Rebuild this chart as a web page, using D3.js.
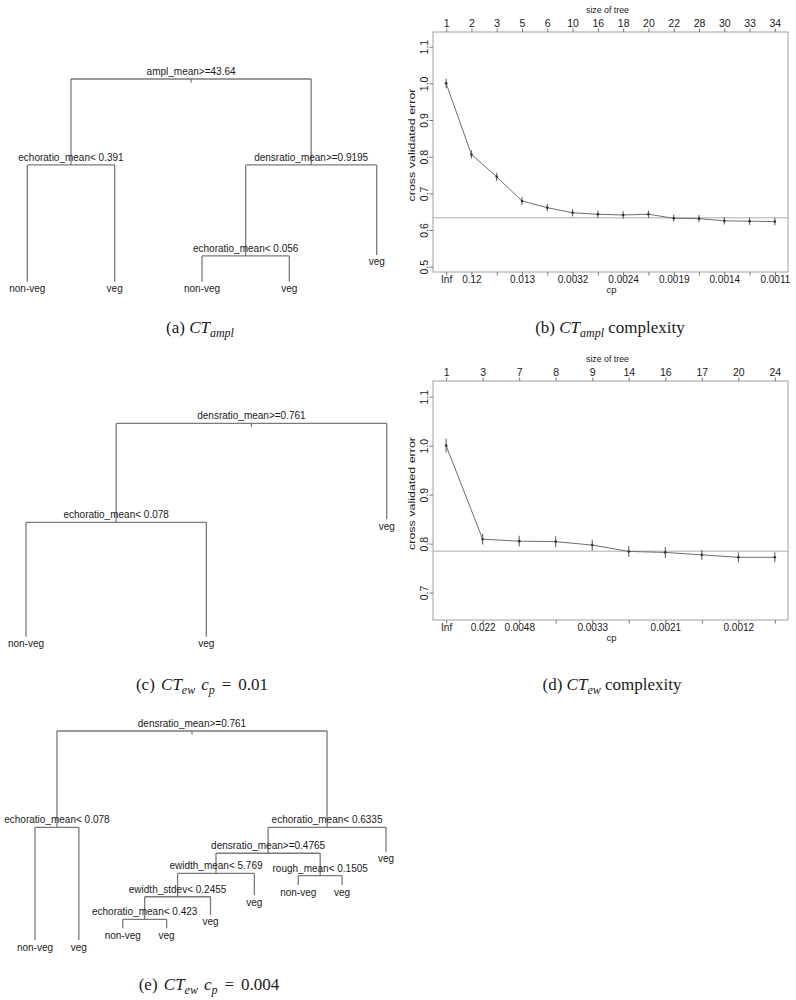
<!DOCTYPE html>
<html>
<head>
<meta charset="utf-8">
<script src="https://cdn.jsdelivr.net/npm/d3@7"></script>
<style>
  body { margin: 0; background: #fff; }
  text { font-family: "Liberation Sans", Arial, sans-serif; fill: #1a1a1a; }
  .cap text, text.cap { font-family: "Liberation Serif", "Times New Roman", serif; }
</style>
</head>
<body>
<div id="fig"></div>
<script>
// ---- complexity plot data ----
const amplSize   = [1, 2, 3, 5, 6, 10, 16, 18, 20, 22, 28, 30, 33, 34];
const amplCp     = ["Inf", "0.12", "", "0.013", "", "0.0032", "", "0.0024", "", "0.0019", "", "0.0014", "", "0.0011"];
const amplXerror = [1.000, 0.806, 0.745, 0.679, 0.661, 0.647, 0.643, 0.641, 0.643, 0.632, 0.631, 0.625, 0.624, 0.623];
const amplXstd   = [0.013, 0.011, 0.011, 0.011, 0.010, 0.010, 0.010, 0.010, 0.010, 0.010, 0.010, 0.010, 0.010, 0.010];
const amplRef    = 0.6335;
const amplYTicks = [0.5, 0.6, 0.7, 0.8, 0.9, 1.0, 1.1];

const ewSize   = [1, 3, 7, 8, 9, 14, 16, 17, 20, 24];
const ewCp     = ["Inf", "0.022", "0.0048", "", "0.0033", "", "0.0021", "", "0.0012", ""];
const ewXerror = [1.000, 0.809, 0.805, 0.804, 0.797, 0.784, 0.782, 0.777, 0.772, 0.772];
const ewXstd   = [0.014, 0.011, 0.011, 0.011, 0.011, 0.011, 0.011, 0.010, 0.010, 0.010];
const ewRef    = 0.7845;
const ewYTicks = [0.7, 0.8, 0.9, 1.0, 1.1];

// ---- trees: rpart node numbers (children of n are 2n, 2n+1), labels, relative heights ----
const treeAIds    = [1, 2, 3, 4, 5, 6, 7, 12, 13];
const treeALabels = ["ampl_mean>=43.64", "echoratio_mean< 0.391", "densratio_mean>=0.9195", "non-veg", "veg",
                     "echoratio_mean< 0.056", "veg", "non-veg", "veg"];
const treeAHeight = [1, 0.576, 0.576, 0, 0, 0.127, 0.132, 0, 0];

const treeCIds    = [1, 2, 3, 4, 5];
const treeCLabels = ["densratio_mean>=0.761", "echoratio_mean< 0.078", "veg", "non-veg", "veg"];
const treeCHeight = [1, 0.536, 0.550, 0, 0];

const treeEIds    = [1, 2, 3, 4, 5, 6, 7, 12, 13, 24, 25, 26, 27, 48, 49, 96, 97];
const treeELabels = ["densratio_mean>=0.761", "echoratio_mean< 0.078", "echoratio_mean< 0.6335", "non-veg", "veg",
                     "densratio_mean>=0.4765", "veg", "ewidth_mean< 5.769", "rough_mean< 0.1505",
                     "ewidth_stdev< 0.2455", "veg", "non-veg", "veg", "echoratio_mean< 0.423", "veg", "non-veg", "veg"];
const treeEHeight = [1, 0.539, 0.539, 0, 0, 0.415, 0.422, 0.319, 0.308, 0.207, 0.215, 0.263, 0.263, 0.099, 0.120, 0.056, 0.056];

const width = 796;
const height = 1000;

const svg = d3.select('#fig')
  .append('svg')
  .attr('width', width)
  .attr('height', height)
  .style('background', '#fff');

const treeLine = '#7a7a7a';

function drawTree(ids, labels, heights, box) {
  const table = ids.map((id, i) => ({
    id: String(id),
    parent: id === 1 ? null : String(Math.floor(id / 2)),
    label: labels[i],
    h: heights[i]
  }));
  const root = d3.stratify().id(d => d.id).parentId(d => d.parent)(table);
  root.sort((a, b) => +a.id - +b.id);

  const leaves = root.leaves();
  leaves.forEach((d, i) => d.xi = i);
  root.eachAfter(d => { if (d.children) d.xi = d3.mean(d.children, c => c.xi); });

  const x = d3.scaleLinear().domain([0, leaves.length - 1]).range([box.left, box.right]);
  const y = d3.scaleLinear().domain([0, 1]).range([box.bottom, box.top]);

  const g = svg.append('g');
  const lines = g.append('g')
    .attr('stroke', treeLine)
    .attr('stroke-width', 1.3)
    .attr('fill', 'none');

  root.each(n => {
    if (!n.children) return;
    const ny = y(n.data.h);
    const xs = n.children.map(c => x(c.xi));
    lines.append('line')
      .attr('x1', d3.min(xs)).attr('x2', d3.max(xs))
      .attr('y1', ny).attr('y2', ny);
    n.children.forEach(c => {
      lines.append('line')
        .attr('x1', x(c.xi)).attr('x2', x(c.xi))
        .attr('y1', ny).attr('y2', y(c.data.h));
    });
  });

  // little stub under the root
  lines.append('line')
    .attr('x1', x(root.xi)).attr('x2', x(root.xi))
    .attr('y1', y(1)).attr('y2', y(1) + 3.5);

  g.selectAll('text')
    .data(root.descendants())
    .enter()
    .append('text')
    .attr('x', d => x(d.xi))
    .attr('y', d => d.children ? y(d.data.h) - 4 : y(d.data.h) + 10.5)
    .attr('text-anchor', 'middle')
    .style('font-size', '10px')
    .text(d => d.data.label);
}

function drawCp(sizes, cps, xerr, xstd, ref, yTicks, box, yDomain) {
  const n = sizes.length;
  const pad = 0.04 * (n - 1);
  const x = d3.scaleLinear().domain([-pad, n - 1 + pad]).range([box.left, box.right]);
  const y = d3.scaleLinear().domain(yDomain).range([box.bottom, box.top]);
  const idx = d3.range(n);

  const g = svg.append('g');

  // reference line
  g.append('line')
    .attr('x1', box.left).attr('x2', box.right)
    .attr('y1', y(ref)).attr('y2', y(ref))
    .attr('stroke', '#c8c8c8')
    .attr('stroke-width', 1.5);

  // error bars
  g.selectAll('.err')
    .data(idx)
    .enter()
    .append('line')
    .attr('class', 'err')
    .attr('x1', i => x(i)).attr('x2', i => x(i))
    .attr('y1', i => y(xerr[i] - xstd[i]))
    .attr('y2', i => y(xerr[i] + xstd[i]))
    .attr('stroke', '#555')
    .attr('stroke-width', 1);

  const line = d3.line().x(i => x(i)).y(i => y(xerr[i]));
  g.append('path')
    .attr('d', line(idx))
    .attr('fill', 'none')
    .attr('stroke', '#6e6e6e')
    .attr('stroke-width', 1);

  g.selectAll('.pt')
    .data(idx)
    .enter()
    .append('circle')
    .attr('class', 'pt')
    .attr('cx', i => x(i))
    .attr('cy', i => y(xerr[i]))
    .attr('r', 1.3)
    .attr('fill', '#333');

  // box
  g.append('rect')
    .attr('x', box.left).attr('y', box.top)
    .attr('width', box.right - box.left)
    .attr('height', box.bottom - box.top)
    .attr('fill', 'none')
    .attr('stroke', '#a0a0a0')
    .attr('stroke-width', 1);

  const bottomAxis = d3.axisBottom(x)
    .tickValues(idx)
    .tickFormat(i => cps[i])
    .tickSize(3.5)
    .tickPadding(0.5);
  const topAxis = d3.axisTop(x)
    .tickValues(idx)
    .tickFormat(i => sizes[i])
    .tickSize(3.5)
    .tickPadding(1.5);
  const leftAxis = d3.axisLeft(y)
    .tickValues(yTicks)
    .tickFormat(d3.format('.1f'))
    .tickSize(3.5);

  const styleAxis = sel => {
    sel.select('.domain').remove();
    sel.selectAll('.tick line').attr('stroke', '#777');
    sel.selectAll('.tick text')
      .style('font-family', '"Liberation Sans", Arial, sans-serif')
      .style('font-size', '10.5px')
      .attr('fill', '#1a1a1a');
  };

  g.append('g')
    .attr('transform', `translate(0, ${box.bottom})`)
    .call(bottomAxis)
    .call(styleAxis)
    .selectAll('.tick text')
    .style('font-size', '10px');

  g.append('g')
    .attr('transform', `translate(0, ${box.top})`)
    .call(topAxis)
    .call(styleAxis);

  g.append('g')
    .attr('transform', `translate(${box.left}, 0)`)
    .call(leftAxis)
    .call(styleAxis)
    .selectAll('.tick text')
    .attr('x', null)
    .attr('dy', null)
    .attr('text-anchor', 'middle')
    .attr('transform', 'translate(-5, 0) rotate(-90)');

  const cx = (box.left + box.right) / 2;
  g.append('text')
    .attr('x', cx - 3).attr('y', box.top - 19)
    .attr('text-anchor', 'middle')
    .style('font-size', '8.8px')
    .text('size of tree');

  g.append('text')
    .attr('x', cx + 1).attr('y', box.bottom + 21)
    .attr('text-anchor', 'middle')
    .style('font-size', '9.5px')
    .text('cp');

  g.append('text')
    .attr('transform', `translate(${box.left - 18}, ${(box.top + box.bottom) / 2 - 7}) rotate(-90)`)
    .attr('text-anchor', 'middle')
    .attr('textLength', 113)
    .attr('lengthAdjust', 'spacingAndGlyphs')
    .style('font-size', '9px')
    .text('cross validated error');
}

function caption(cx, by, parts) {
  const t = svg.append('text')
    .attr('class', 'cap')
    .attr('x', cx)
    .attr('y', by)
    .attr('text-anchor', 'middle')
    .style('font-size', '17px');
  let shift = 0;
  parts.forEach(p => {
    const ts = t.append('tspan').text(p.t);
    if (p.i) ts.style('font-style', 'italic');
    if (p.dx) ts.attr('dx', p.dx);
    const want = p.sub ? 4 : 0;
    if (want !== shift) { ts.attr('dy', want - shift); shift = want; }
    if (p.sub) ts.style('font-size', '12px');
  });
}

// (a)
drawTree(treeAIds, treeALabels, treeAHeight, { left: 27.3, right: 376.7, top: 79, bottom: 281.7 });
// (c)
drawTree(treeCIds, treeCLabels, treeCHeight, { left: 26, right: 386.7, top: 423.3, bottom: 636.7 });
// (e)
drawTree(treeEIds, treeELabels, treeEHeight, { left: 35, right: 386, top: 731, bottom: 940 });

// (b)
drawCp(amplSize, amplCp, amplXerror, amplXstd, amplRef, amplYTicks,
  { left: 433, right: 788, top: 32, bottom: 272 }, [0.4855, 1.14]);
// (d)
drawCp(ewSize, ewCp, ewXerror, ewXstd, ewRef, ewYTicks,
  { left: 433, right: 788, top: 381, bottom: 620 }, [0.644, 1.132]);

caption(200, 333, [{ t: '(a)  ' }, { t: 'CT', i: true }, { t: 'ampl', i: true, sub: true }]);
caption(610, 333, [{ t: '(b)  ' }, { t: 'CT', i: true }, { t: 'ampl', i: true, sub: true }, { t: ' complexity' }]);
caption(202, 690, [{ t: '(c)  ' }, { t: 'CT', i: true, dx: 2 }, { t: 'ew', i: true, sub: true }, { t: 'c', i: true, dx: 6 },
                   { t: 'p', i: true, sub: true }, { t: '=', dx: 7 }, { t: '0.01', dx: 7 }]);
caption(612, 690, [{ t: '(d)  ' }, { t: 'CT', i: true }, { t: 'ew', i: true, sub: true }, { t: ' complexity' }]);
caption(209, 990, [{ t: '(e)  ' }, { t: 'CT', i: true, dx: 2 }, { t: 'ew', i: true, sub: true }, { t: 'c', i: true, dx: 6 },
                   { t: 'p', i: true, sub: true }, { t: '=', dx: 7 }, { t: '0.004', dx: 7 }]);
</script>
</body>
</html>
